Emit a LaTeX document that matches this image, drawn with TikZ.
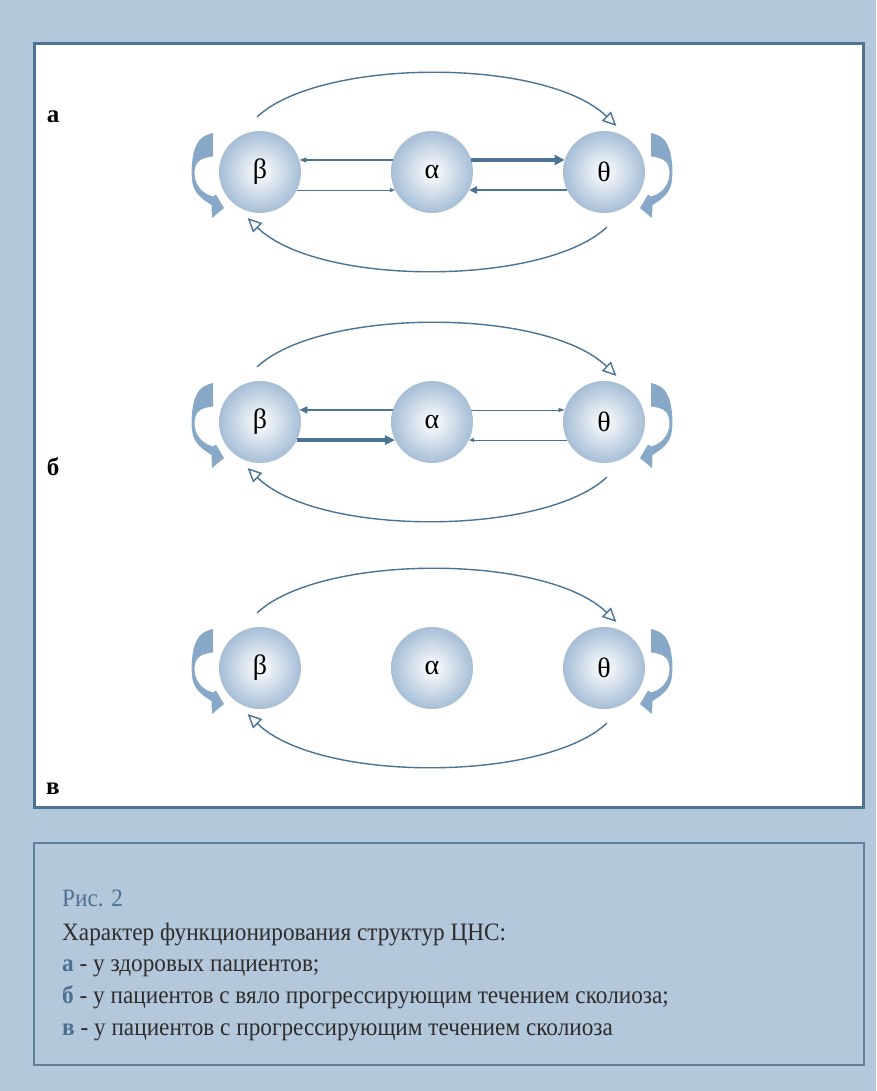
\documentclass[tikz,border=0pt]{standalone}
\usepackage{fontspec}
\setmainfont{Liberation Serif}
\newfontfamily\capfont[FakeStretch=0.93]{Liberation Serif}
\usetikzlibrary{arrows.meta}
\definecolor{bgblue}{RGB}{180,200,220}
\definecolor{panelborder}{RGB}{78,115,146}
\definecolor{capborder}{RGB}{96,128,156}
\definecolor{arrowblue}{RGB}{74,115,148}
\definecolor{loopblue}{RGB}{135,168,198}
\definecolor{circblue}{RGB}{166,190,214}
\definecolor{capblue}{RGB}{76,112,144}
\definecolor{captext}{RGB}{45,45,45}
\tikzset{
  circ/.style={circle, minimum size=82pt, inner sep=0pt, shade, inner color=white, outer color=circblue, font=\fontsize{28}{28}\selectfont},
  lnk/.style={draw=arrowblue},
  bigarc/.style={draw=arrowblue, line width=1.4pt, -{Triangle[open,length=14pt,width=13pt]}},
  panellabel/.style={font=\fontsize{25}{25}\selectfont\bfseries, text=black, inner sep=0pt},
  captxt/.style={font=\capfont\fontsize{25}{25}\selectfont, text=captext, inner sep=0pt, anchor=base west},
  pics/curlarrow/.style={code={
    \fill[loopblue] plot[smooth, tension=0.7] coordinates {(213,-39) (203,-35) (196.5,-27) (192.7,-14) (191.7,3) (194,16) (200,24.5) (207,30) (211.5,33)}
      -- (212,46) -- (224,36) -- (216,22.5) -- (213,24.5)
      -- plot[smooth, tension=0.7] coordinates {(213,24.5) (205,21) (198.5,14.5) (195,6) (195,-4) (198.5,-10.5) (205,-14) (213,-15.5)} -- cycle;
  }}
}
\begin{document}
\begin{tikzpicture}[x=1pt,y=-1pt]
\fill[bgblue] (0,0) rectangle (876,1091);
\useasboundingbox (0,0) rectangle (876,1091);
\draw[panelborder, line width=2.5pt, fill=white] (34.5,43.5) rectangle (863.5,807.5);
\draw[capborder, line width=1.2pt] (34,843) rectangle (864,1065);

% panel labels
\node[panellabel, anchor=base] (la) at (53,123) {а};
\node[panellabel, anchor=base] (lb) at (53,475) {б};
\node[panellabel, anchor=base] (lv) at (53,794) {в};

% circles
\node[circ] (b1) at (260,172) {β};
\node[circ] (a1) at (432,172) {α};
\node[circ] (t1) at (604,172) {θ};
\node[circ] (b2) at (260,422) {β};
\node[circ] (a2) at (432,422) {α};
\node[circ] (t2) at (604,422) {θ};
\node[circ] (b3) at (260,668) {β};
\node[circ] (a3) at (432,668) {α};
\node[circ] (t3) at (604,668) {θ};

% self loops
\foreach \yc in {172,422,668} {
  \pic at (0,\yc) {curlarrow};
  \pic[xscale=-1] at (864,\yc) {curlarrow};
}

% big arcs
\foreach \r in {1,2,3} {
  \draw[bigarc] ([shift={(93:14pt)}]b\r.93) .. controls +(63,-59) and +(-71,-69) .. ([shift={(75:6.5pt)}]t\r.75);
  \draw[bigarc] ([shift={(-87:14pt)}]t\r.-87) .. controls +(-63,59) and +(71,69) .. ([shift={(-105:6.5pt)}]b\r.-105);
}

% row a straight arrows
\draw[lnk, line width=1.3pt, -{Triangle[length=7pt,width=5pt]}] (a1.163) -- (b1.17);
\draw[lnk, line width=0.8pt, -{Triangle[length=5pt,width=4pt]}] (b1.-26) -- (a1.206);
\draw[lnk, line width=3.5pt, -{Triangle[length=10pt,width=10pt]}] (a1.17) -- (t1.163);
\draw[lnk, line width=2.5pt, -{Triangle[length=8pt,width=7pt]}] (t1.206) -- (a1.-26);

% row b straight arrows
\draw[lnk, line width=2.8pt, -{Triangle[length=8pt,width=7pt]}] (a2.163) -- (b2.17);
\draw[lnk, line width=3.5pt, -{Triangle[length=10pt,width=9pt]}] (b2.-26) -- (a2.206);
\draw[lnk, line width=0.9pt, -{Triangle[length=6pt,width=4pt]}] (a2.17) -- (t2.163);
\draw[lnk, line width=0.8pt, -{Triangle[length=5pt,width=4pt]}] (t2.206) -- (a2.-26);

% caption
\node[captxt, text=capblue] (fig) at (62,906) {Рис. 2};
\node[captxt] (c0) at (62,940) {Характер функционирования структур ЦНС:};
\node[captxt] (c1) at (62,971) {\textcolor{capblue}{\bfseries а} - у здоровых пациентов;};
\node[captxt] (c2) at (62,1003) {\textcolor{capblue}{\bfseries б} - у пациентов с вяло прогрессирующим течением сколиоза;};
\node[captxt] (c3) at (62,1035) {\textcolor{capblue}{\bfseries в} - у пациентов с прогрессирующим течением сколиоза};
\end{tikzpicture}
\end{document}
